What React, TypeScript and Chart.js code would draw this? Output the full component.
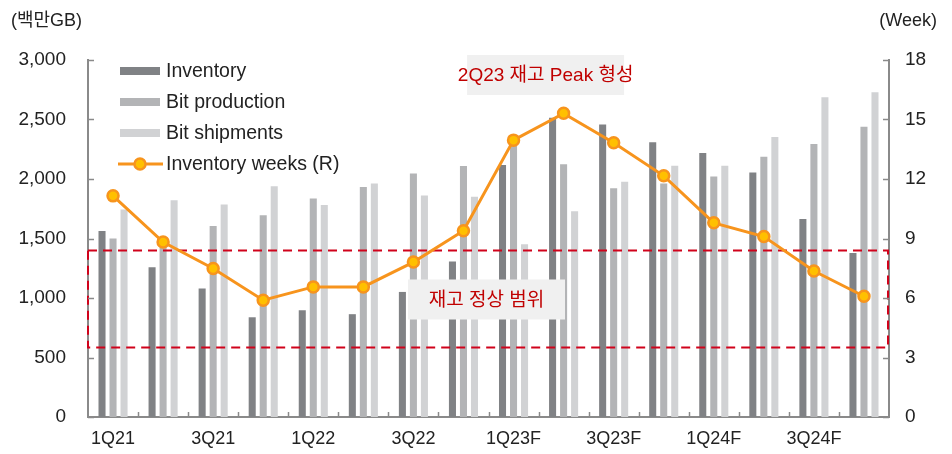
import React, { useEffect, useRef } from "react";
import { Chart, registerables } from "chart.js";

Chart.register(...registerables);

const categories = ["1Q21", "2Q21", "3Q21", "4Q21", "1Q22", "2Q22", "3Q22", "4Q22", "1Q23F", "2Q23F", "3Q23F", "4Q23F", "1Q24F", "2Q24F", "3Q24F", "4Q24F"];
const inventory = [1564, 1259, 1080, 838, 897, 864, 1051, 1307, 2117, 2515, 2459, 2308, 2218, 2055, 1663, 1379];
const bitProduction = [1500, 1480, 1604, 1696, 1837, 1932, 2047, 2109, 2330, 2123, 1923, 1963, 2022, 2187, 2294, 2439];
const bitShipments = [1744, 1822, 1786, 1939, 1781, 1963, 1862, 1850, 1452, 1730, 1977, 2111, 2111, 2352, 2686, 2728];
const inventoryWeeks = [11.15, 8.82, 7.49, 5.89, 6.56, 6.56, 7.81, 9.39, 13.96, 15.31, 13.83, 12.16, 9.79, 9.1, 7.36, 6.09];
const normalRangeWeeks = [3.5, 8.4];
const peakLabel = "2Q23 재고 Peak 형성";
const normalLabel = "재고 정상 범위";
const leftTitle = "(백만GB)";
const rightTitle = "(Week)";

const FONT = '"Liberation Sans", "Noto Sans CJK KR", sans-serif';
const AXIS = "#8a8a8a";
const RED = "#c00000";

export default function App() {
  const ref = useRef<HTMLCanvasElement | null>(null);
  useEffect(() => {
    document.body.style.margin = "0";
    const canvas = ref.current!;
    const overlay = {
      id: "overlay",
      beforeDatasetDraw(chart: any, args: any) {
        if (args.meta.type !== "line") return;
        const ctx = chart.ctx;
        const ca = chart.chartArea;
        const y1 = chart.scales.y1;
        const x = chart.scales.x;
        ctx.save();
        const top = y1.getPixelForValue(normalRangeWeeks[1]);
        const bot = y1.getPixelForValue(normalRangeWeeks[0]);
        ctx.strokeStyle = "#d0021b";
        ctx.lineWidth = 2;
        ctx.setLineDash([9, 6]);
        ctx.strokeRect(ca.left, top, ca.right - ca.left - 1, bot - top);
        ctx.setLineDash([]);
        const drawBox = (text: string, cx: number, cy: number, w: number, h: number) => {
          ctx.fillStyle = "#f0f0f0";
          ctx.fillRect(cx - w / 2, cy - h / 2, w, h);
          ctx.fillStyle = RED;
          ctx.font = "19px " + FONT;
          ctx.textAlign = "center";
          ctx.textBaseline = "middle";
          ctx.fillText(text, cx, cy + 1);
        };
        const pk = x.getPixelForValue(9) - 18;
        drawBox(peakLabel, pk, 75, 157, 40);
        const nx = (x.getPixelForValue(7) + x.getPixelForValue(8)) / 2 - 2;
        drawBox(normalLabel, nx, (top + bot) / 2 + 0.5, 157, 40);
        ctx.restore();
      },
      afterDraw(chart: any) {
        const ctx = chart.ctx;
        const ca = chart.chartArea;
        const y = chart.scales.y;
        const y1 = chart.scales.y1;
        const x = chart.scales.x;
        ctx.save();
        ctx.strokeStyle = AXIS;
        ctx.lineWidth = 1.5;
        ctx.beginPath();
        y.ticks.forEach((t: any) => {
          const p = Math.round(y.getPixelForValue(t.value)) + 0.5;
          ctx.moveTo(ca.left, p);
          ctx.lineTo(ca.left + 6, p);
        });
        y1.ticks.forEach((t: any) => {
          const p = Math.round(y1.getPixelForValue(t.value)) + 0.5;
          ctx.moveTo(ca.right, p);
          ctx.lineTo(ca.right - 6, p);
        });
        for (let i = 1; i < categories.length; i++) {
          const p = Math.round((x.getPixelForValue(i - 1) + x.getPixelForValue(i)) / 2) + 0.5;
          ctx.moveTo(p, ca.bottom);
          ctx.lineTo(p, ca.bottom - 5);
        }
        ctx.stroke();
        ctx.fillStyle = "#222";
        ctx.font = "18px " + FONT;
        ctx.textBaseline = "middle";
        ctx.textAlign = "left";
        ctx.fillText(leftTitle, 11, 21);
        ctx.textAlign = "right";
        ctx.fillText(rightTitle, 937, 21);
        const ds = chart.data.datasets;
        const rows = [ds[1], ds[2], ds[3], ds[0]];
        rows.forEach((d: any, i: number) => {
          const cy = 71 + i * 31;
          if (d.type === "line") {
            ctx.strokeStyle = d.borderColor;
            ctx.lineWidth = 3;
            ctx.beginPath();
            ctx.moveTo(118, cy);
            ctx.lineTo(163, cy);
            ctx.stroke();
            ctx.beginPath();
            ctx.arc(140, cy, 5.5, 0, Math.PI * 2);
            ctx.fillStyle = d.pointBackgroundColor;
            ctx.fill();
            ctx.lineWidth = 2.5;
            ctx.stroke();
          } else {
            ctx.fillStyle = d.backgroundColor;
            ctx.fillRect(120, cy - 4, 40, 8);
          }
          ctx.fillStyle = "#222";
          ctx.textAlign = "left";
          ctx.font = "19.5px " + FONT;
          ctx.fillText(d.label, 166, cy + 1);
        });
        ctx.restore();
      },
    };
    const chart = new Chart(canvas, {
      type: "bar",
      data: {
        labels: categories,
        datasets: [
          {
            type: "line",
            label: "Inventory weeks (R)",
            data: inventoryWeeks,
            yAxisID: "y1",
            borderColor: "#f7941d",
            borderWidth: 3,
            pointBackgroundColor: "#ffc000",
            pointBorderColor: "#f7941d",
            pointBorderWidth: 2.5,
            pointRadius: 5.5,
            order: 0,
          } as any,
          { label: "Inventory", data: inventory, backgroundColor: "#808285", yAxisID: "y", order: 1, categoryPercentage: 0.66, barPercentage: 0.64 },
          { label: "Bit production", data: bitProduction, backgroundColor: "#b3b4b6", yAxisID: "y", order: 1, categoryPercentage: 0.66, barPercentage: 0.64 },
          { label: "Bit shipments", data: bitShipments, backgroundColor: "#d1d2d4", yAxisID: "y", order: 1, categoryPercentage: 0.66, barPercentage: 0.64 },
        ],
      },
      options: {
        responsive: false,
        animation: false,
        layout: { padding: { top: 60, left: 0, right: 0, bottom: 0 } },
        plugins: { legend: { display: false }, tooltip: { enabled: false } },
        scales: {
          x: {
            grid: { display: false, drawTicks: false },
            border: { display: true, color: AXIS, width: 2 },
            ticks: {
              autoSkip: false,
              maxRotation: 0,
              padding: 11,
              color: "#222",
              font: { family: FONT, size: 18 },
              callback: (_v: any, i: number) => (i % 2 === 0 ? categories[i] : ""),
            },
            afterFit: (s: any) => { s.height = 37; },
          },
          y: {
            position: "left",
            min: 0,
            max: 3000,
            grid: { display: false, drawTicks: false },
            border: { display: true, color: AXIS, width: 2 },
            ticks: { stepSize: 500, padding: 22, color: "#222", font: { family: FONT, size: 19 }, callback: (v: any) => Number(v).toLocaleString("en-US") },
            afterFit: (s: any) => { s.width = 88; },
          },
          y1: {
            position: "right",
            min: 0,
            max: 18,
            grid: { display: false, drawTicks: false },
            border: { display: true, color: AXIS, width: 2 },
            ticks: { stepSize: 3, padding: 16, color: "#222", font: { family: FONT, size: 19 } },
            afterFit: (s: any) => { s.width = 63; },
          },
        },
      },
      plugins: [overlay],
    } as any);
    return () => chart.destroy();
  }, []);
  return (
    <div style={{ width: 952, height: 454 }}>
      <canvas ref={ref} width={952} height={454} />
    </div>
  );
}
